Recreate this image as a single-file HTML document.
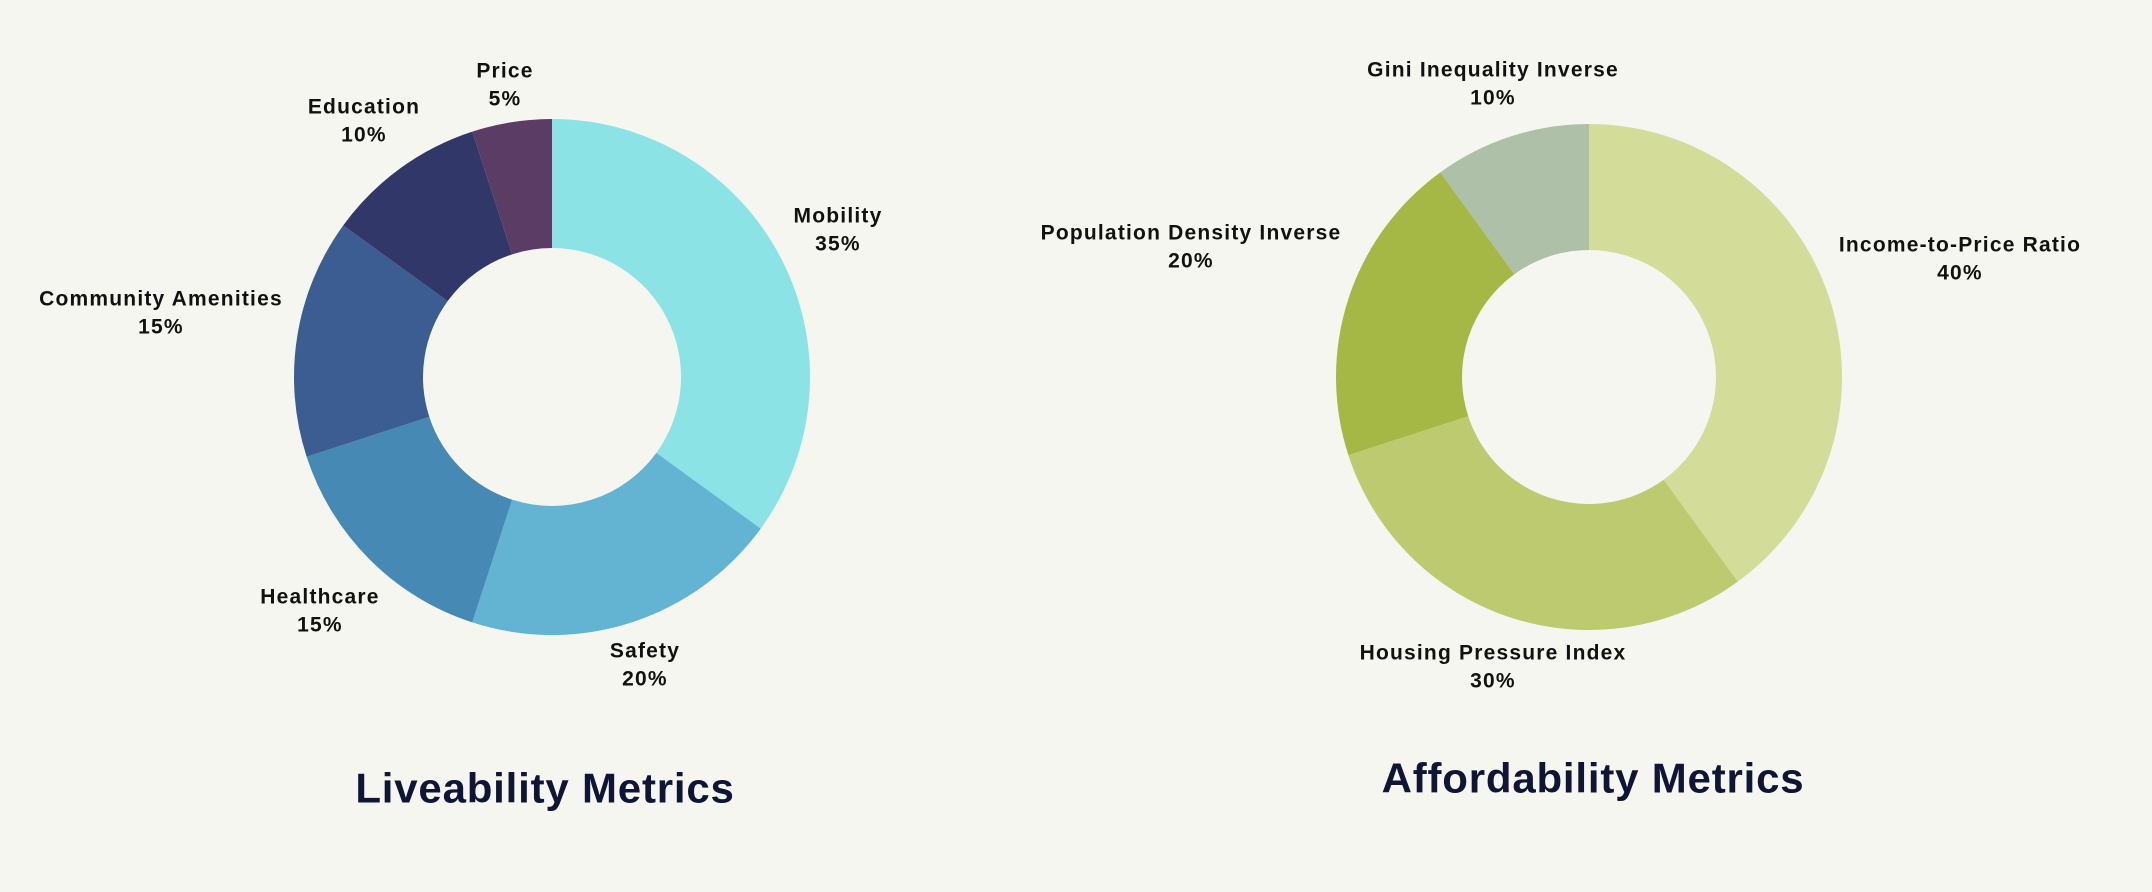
<!DOCTYPE html>
<html><head><meta charset="utf-8"><style>
html,body{margin:0;padding:0;background:#f6f6f1;}
svg{display:block;}
text{font-family:"Liberation Sans",sans-serif;font-weight:bold;}
</style></head><body>
<svg id="chart" width="2152" height="892" viewBox="0 0 2152 892" xmlns="http://www.w3.org/2000/svg">
<rect width="2152" height="892" fill="#f6f6f1"/>
</svg>
<script>
const liveCategories = ["Mobility","Safety","Healthcare","Community Amenities","Education","Price"];
const liveValues = [35,20,15,15,10,5];
const liveColors = ["#8ce3e6","#62b4d2","#4789b5","#3b5d91","#32376a","#5a3c65"];
const liveLabelPos = [[838,215],[645,650],[320,596],[161,298],[364,106],[505,70]];
const affCategories = ["Income-to-Price Ratio","Housing Pressure Index","Population Density Inverse","Gini Inequality Inverse"];
const affValues = [40,30,20,10];
const affColors = ["#d3dc99","#bdca6f","#a5b845","#aec0a8"];
const affLabelPos = [[1960,244],[1493,652],[1191,232],[1493,69]];

const NS="http://www.w3.org/2000/svg";
const svg=document.getElementById('chart');
function mk(tag,attrs){const e=document.createElementNS(NS,tag);for(const k in attrs)e.setAttribute(k,attrs[k]);svg.appendChild(e);return e;}
function donut(key,cx,cy,R,r,cats,vals,cols,pos,title,tx,ty){
  const total=vals.reduce((a,b)=>a+b,0);
  let a0=0;
  vals.forEach((v,i)=>{
    const a1=a0+v/total*Math.PI*2;
    const p=(a,rad)=>[cx+rad*Math.sin(a),cy-rad*Math.cos(a)];
    const [x0,y0]=p(a0,R),[x1,y1]=p(a1,R),[x2,y2]=p(a1,r),[x3,y3]=p(a0,r);
    const large=(a1-a0)>Math.PI?1:0;
    const path=mk('path',{d:`M${x0},${y0}A${R},${R} 0 ${large} 1 ${x1},${y1}L${x2},${y2}A${r},${r} 0 ${large} 0 ${x3},${y3}Z`,fill:cols[i]});
    
    
    const t=mk('text',{x:pos[i][0],y:pos[i][1],'text-anchor':'middle','font-size':21,'letter-spacing':'1.2',fill:'#111'});
    
    
    const s1=document.createElementNS(NS,'tspan');s1.setAttribute('x',pos[i][0]);s1.setAttribute('dy','0.35em');s1.textContent=cats[i];t.appendChild(s1);
    const s2=document.createElementNS(NS,'tspan');s2.setAttribute('x',pos[i][0]);s2.setAttribute('dy','1.35em');s2.textContent=vals[i]+'%';t.appendChild(s2);
    a0=a1;
  });
  const tt=mk('text',{x:tx,y:ty,'text-anchor':'middle','font-size':42,'letter-spacing':'0.8',fill:'#0e1535','dominant-baseline':'central'});
  
  
  tt.textContent=title;
}
donut('liveability',552,377,258,129,liveCategories,liveValues,liveColors,liveLabelPos,'Liveability Metrics',545,788);
donut('affordability',1589,377,253,127,affCategories,affValues,affColors,affLabelPos,'Affordability Metrics',1593,778);
</script>
</body></html>
